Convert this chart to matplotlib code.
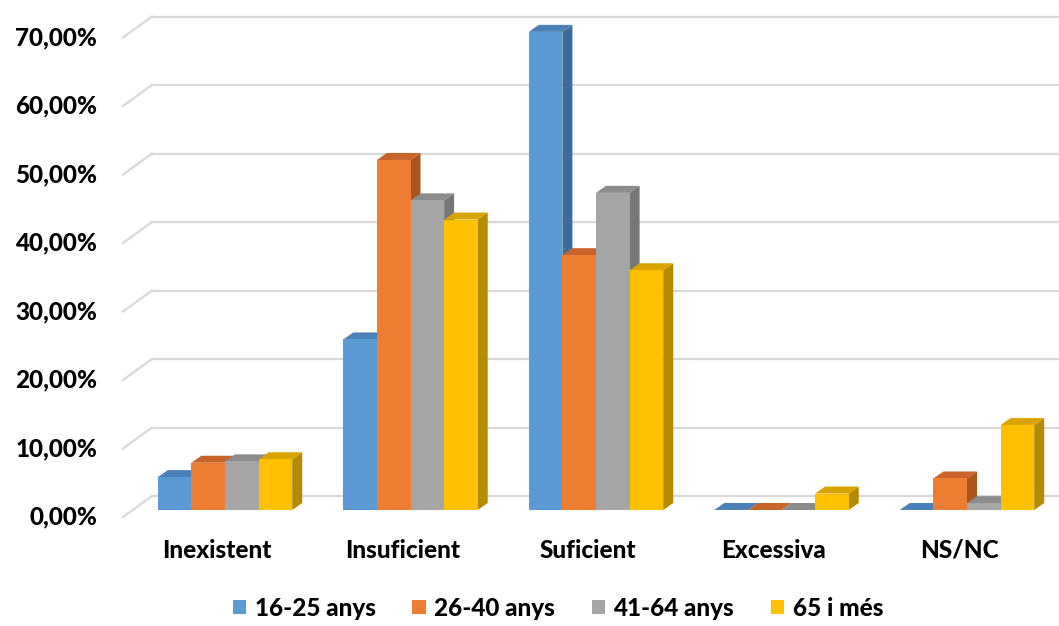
"""
Valoracio per grups d'edat - columnes agrupades amb efecte 3D (estil Excel)
"""

import matplotlib
matplotlib.use('Agg')
import matplotlib.pyplot as plt
from matplotlib.patches import Polygon, Patch

# Dades
categories = ['Inexistent', 'Insuficient', 'Suficient', 'Excessiva', 'NS/NC']
series_names = ['16-25 anys', '26-40 anys', '41-64 anys', '65 i més']
v_16_25 = [4.8, 24.9, 69.8, 0.0, 0.0]
v_26_40 = [6.9, 51.1, 37.2, 0.0, 4.6]
v_41_64 = [7.1, 45.2, 46.3, 0.0, 1.0]
v_65_mes = [7.4, 42.4, 35.0, 2.4, 12.4]
y_ticks = [0, 10, 20, 30, 40, 50, 60, 70]

series = [v_16_25, v_26_40, v_41_64, v_65_mes]
front_cols = ['#5B9BD5', '#ED7D31', '#A5A5A5', '#FFC000']
top_cols = ['#4A80B8', '#C8642A', '#8C8C8C', '#D9A300']
side_cols = ['#3E6C99', '#A9561E', '#767676', '#B38A00']

W, H = 1059, 626
PX_X = 185.5   # pixels per category
PX_Y = 6.85    # pixels per 1 %
X0_PX = 225    # pixel of first category centre
Y0_PX = 116    # pixel (from bottom) of 0 % in bar plane

FONT = ['Lato', 'DejaVu Sans']
WEIGHT = 'black'

fig = plt.figure(figsize=(W / 100, H / 100), dpi=100)
ax = fig.add_axes([0, 0, 1, 1])
ax.set_xlim(-X0_PX / PX_X, (W - X0_PX) / PX_X)
ax.set_ylim(-Y0_PX / PX_Y, (H - Y0_PX) / PX_Y)
ax.axis('off')

def px2x(p):
    return p / PX_X

def px2y(p):
    return p / PX_Y

bar_w = px2x(33.6)
dx, dy = px2x(10), px2y(7)          # depth of a bar
back_dx, back_dy = px2x(19), px2y(14)   # bar plane -> back wall
front_dx, front_dy = px2x(-10), px2y(-7)  # bar plane -> front plane

# back wall grid + left wall diagonals
wall_left = px2x(152 - X0_PX)
for t in y_ticks:
    yb = t + back_dy
    ax.plot([wall_left, ax.get_xlim()[1]], [yb, yb], color='#D9D9D9', lw=1.6, zorder=1)
    ax.plot([wall_left - px2x(29), wall_left], [yb - px2y(21), yb],
            color='#D9D9D9', lw=1.6, zorder=1)
    ax.text(px2x(97 - X0_PX), t + front_dy, f'{t},00%', ha='right', va='center',
            fontsize=17.5, fontweight=WEIGHT, family=FONT, color='#000000')

# bars, left to right so faces overlap correctly
z = 3
for i, cat in enumerate(categories):
    start = i - 2 * bar_w
    for j, vals in enumerate(series):
        x0 = start + j * bar_w
        h = vals[i]
        side = Polygon([(x0 + bar_w, 0), (x0 + bar_w + dx, dy),
                        (x0 + bar_w + dx, h + dy), (x0 + bar_w, h)],
                       closed=True, facecolor=side_cols[j], edgecolor='none', zorder=z)
        top = Polygon([(x0, h), (x0 + bar_w, h), (x0 + bar_w + dx, h + dy), (x0 + dx, h + dy)],
                      closed=True, facecolor=top_cols[j], edgecolor='none', zorder=z + 1)
        ax.add_patch(side)
        ax.add_patch(top)
        ax.bar(x0, h, width=bar_w, align='edge', color=front_cols[j], edgecolor='none',
               zorder=z + 2)
        z += 3
    ax.text(i - px2x(8), px2y(-40), cat, ha='center', va='center', fontsize=17.5,
            fontweight=WEIGHT, family=FONT, color='#000000')

handles = [Patch(facecolor=c, edgecolor='none') for c in front_cols]
fig.legend(handles, series_names, loc='center', bbox_to_anchor=(558 / W, 18 / H), ncol=4,
           frameon=False, handlelength=0.55, handleheight=0.55, handletextpad=0.35,
           columnspacing=1.5, prop={'family': FONT, 'weight': WEIGHT, 'size': 17.5})

fig.savefig('out.png', dpi=100)
